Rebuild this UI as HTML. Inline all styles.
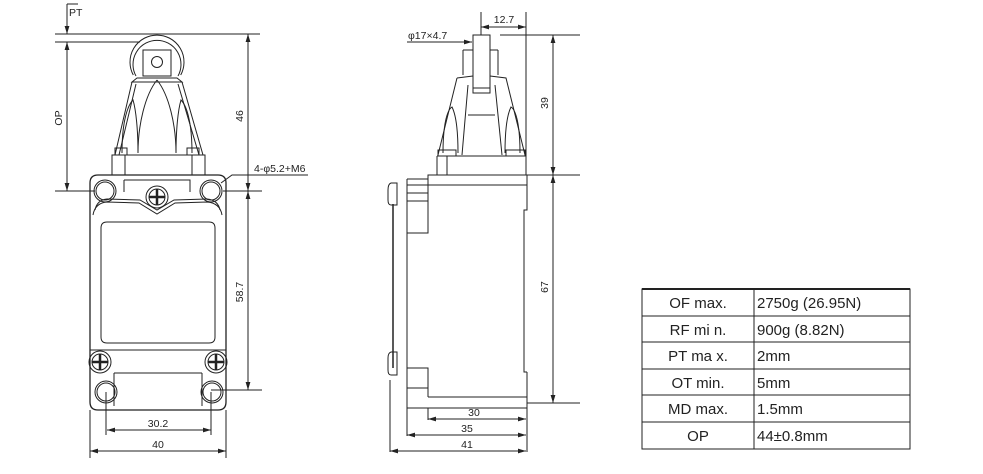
<!DOCTYPE html>
<html><head><meta charset="utf-8"><style>
html,body{margin:0;padding:0;background:#fff;}
svg{display:block;}
text{font-family:"Liberation Sans",sans-serif;fill:#222;}
</style></head><body>
<svg width="983" height="474" viewBox="0 0 983 474" xmlns="http://www.w3.org/2000/svg">
<defs>
<marker id="a" viewBox="0 0 10 6" refX="10" refY="3" markerWidth="8" markerHeight="5" orient="auto-start-reverse"><path d="M0,0L10,3L0,6z" fill="#222"/></marker>
</defs>
<g fill="none" stroke="#222" stroke-width="1">
<!-- FRONT VIEW -->
<path d="M133.3,75 A27,27 0 1 1 180.7,75"/>
<path d="M136,76 A24,24 0 1 1 178,76"/>
<rect x="143" y="50" width="28" height="26"/>
<circle cx="157" cy="62" r="5.5"/>
<path d="M137,78 L177,78 L182,82 L132,82 Z"/>
<path d="M132,82 L115,155 M182,82 L203,155"/>
<path d="M136,84 L119,155 M178,84 L199,155"/>
<path d="M157,80 C145,95 138,125 138,153 M157,80 C169,95 176,125 176,153"/>
<path d="M122,153 C122,120 128,105 133,100 C136,110 138,130 138,153"/>
<path d="M192,153 C192,120 186,105 181,100 C178,110 176,130 176,153"/>
<rect x="115" y="148" width="12" height="7"/><rect x="187" y="148" width="12" height="7"/>
<rect x="112" y="155" width="93" height="20"/>
<line x1="125" y1="155" x2="125" y2="175"/><line x1="192" y1="155" x2="192" y2="175"/>
<path d="M98,175 L218,175 Q226,175 226,183 L226,402 Q226,410 218,410 L98,410 Q90,410 90,402 L90,183 Q90,175 98,175 Z" stroke-width="1.3"/>
<path d="M124,180 L190,180 L190,192 M124,180 L124,192"/>
<path d="M95,210 Q97,200 107,199 L140,200 L157,210 L174,200 L207,199 Q218,200 220,210"/>
<path d="M93,215 Q95,203 107,202 L139,203 L157,214 L175,203 L207,202 Q220,203 222,215"/>
<circle cx="105" cy="191" r="11"/><circle cx="105" cy="191" r="9"/>
<circle cx="211" cy="191" r="11"/><circle cx="211" cy="191" r="9"/>
<circle cx="157" cy="197" r="11"/><circle cx="157" cy="197" r="8"/>
<path d="M157,189 V205 M149,197 H165" stroke-width="2.5"/>
<path d="M107,222 L209,222 Q215,222 215,228 L215,337 Q215,343 209,343 L107,343 Q101,343 101,337 L101,228 Q101,222 107,222 Z"/>
<path d="M90,350 L226,350 M114,373 L202,373 M114,373 L114,406 M202,373 L202,406"/>
<circle cx="100" cy="362" r="11"/><circle cx="100" cy="362" r="8"/>
<circle cx="216" cy="362" r="11"/><circle cx="216" cy="362" r="8"/>
<path d="M100,354 V370 M92,362 H108 M216,354 V370 M208,362 H224" stroke-width="2.5"/>
<circle cx="106" cy="392" r="11"/><circle cx="106" cy="392" r="9"/>
<circle cx="212" cy="392" r="11"/><circle cx="212" cy="392" r="9"/>
<path d="M55,34 H260 M55,42 H140 M55,191 H95 M223,191 H262 M211,390 H262"/>
<path d="M67,4 H78"/><path d="M67,4 V34" marker-end="url(#a)"/>
<line x1="67" y1="42" x2="67" y2="191" marker-start="url(#a)" marker-end="url(#a)"/>
<line x1="248" y1="34" x2="248" y2="191" marker-start="url(#a)" marker-end="url(#a)"/>
<line x1="248" y1="191" x2="248" y2="390" marker-start="url(#a)" marker-end="url(#a)"/>
<path d="M221,183 L232,175 H308"/>
<path d="M106,392 V435 M211,392 V435 M90,410 V458 M226,410 V458"/>
<line x1="107" y1="430" x2="211" y2="430" marker-start="url(#a)" marker-end="url(#a)"/>
<line x1="90" y1="451" x2="226" y2="451" marker-start="url(#a)" marker-end="url(#a)"/>
<!-- SIDE VIEW -->
<rect x="473" y="35" width="17" height="58"/>
<line x1="473" y1="88" x2="490" y2="88"/>
<path d="M463,50 H473 M490,50 H498 M463,50 V75 M498,50 V75"/>
<path d="M457,78 L473,76 M490,76 L506,78 L525,155 M457,78 L438,155"/>
<path d="M468,85 L462,155 M495,85 L502,155 M468,115 H495"/>
<path d="M443,153 C443,125 447,110 452,107 C456,115 458,130 458,153 M520,153 C520,125 516,110 511,107 C507,115 505,130 505,153"/>
<rect x="438" y="150" width="18" height="6"/><rect x="506" y="150" width="19" height="6"/>
<path d="M437,156 H526 M437,156 V175 M447,156 V175"/>
<rect x="428" y="175" width="99" height="10"/>
<path d="M407,179 V408 H527 V372 M407,179 H428 M527,185 V210 H524 V372 H527"/>
<path d="M407,185 H428 M407,193 H428 M407,201 H428 M407,233 H428 V185"/>
<path d="M428,397 H527 M407,368 H428 V397 M407,388 H428"/>
<path d="M393,204 V368" stroke-width="1.5"/>
<path d="M397,183 H391 Q388,184 388,190 V200 Q388,205 391,205 H397 Z M397,183 V204"/>
<path d="M397,352 H391 Q388,353 388,358 V370 Q388,375 391,375 H397 Z"/>
<path d="M500,35 H580 M527,175 H580 M527,403 H580"/>
<line x1="553" y1="35" x2="553" y2="175" marker-start="url(#a)" marker-end="url(#a)"/>
<line x1="553" y1="175" x2="553" y2="403" marker-start="url(#a)" marker-end="url(#a)"/>
<path d="M481,12 V35 M526,12 V175"/>
<line x1="481" y1="27" x2="526" y2="27" marker-start="url(#a)" marker-end="url(#a)"/>
<path d="M407,42 H440"/><line x1="440" y1="42" x2="472" y2="42" marker-end="url(#a)"/>
<path d="M428,408 V420 M407,408 V436 M390,380 V452 M527,408 V452"/>
<line x1="428" y1="419" x2="526" y2="419" marker-start="url(#a)" marker-end="url(#a)"/>
<line x1="407" y1="435" x2="526" y2="435" marker-start="url(#a)" marker-end="url(#a)"/>
<line x1="390" y1="451" x2="526" y2="451" marker-start="url(#a)" marker-end="url(#a)"/>
<!-- TABLE -->
<rect x="642" y="289" width="268" height="160"/>
<line x1="642" y1="289" x2="910" y2="289" stroke-width="2"/>
<line x1="754" y1="289" x2="754" y2="449"/>
<path d="M642,316 H910 M642,342 H910 M642,369 H910 M642,395 H910 M642,422 H910"/>
</g>
<g font-size="10.5">
<text x="69" y="16">PT</text>
<text x="62" y="118" transform="rotate(-90 62 118)" text-anchor="middle">OP</text>
<text x="243" y="116" transform="rotate(-90 243 116)" text-anchor="middle">46</text>
<text x="243" y="292" transform="rotate(-90 243 292)" text-anchor="middle">58.7</text>
<text x="254" y="172">4-φ5.2+M6</text>
<text x="158" y="427" text-anchor="middle">30.2</text>
<text x="158" y="448" text-anchor="middle">40</text>
<text x="408" y="39">φ17×4.7</text>
<text x="504" y="23" text-anchor="middle">12.7</text>
<text x="548" y="103" transform="rotate(-90 548 103)" text-anchor="middle">39</text>
<text x="548" y="287" transform="rotate(-90 548 287)" text-anchor="middle">67</text>
<text x="474" y="416" text-anchor="middle">30</text>
<text x="467" y="432" text-anchor="middle">35</text>
<text x="467" y="448" text-anchor="middle">41</text>
</g>
<g font-size="15">
<text x="698" y="308" text-anchor="middle">OF max.</text>
<text x="698" y="335" text-anchor="middle">RF mi n.</text>
<text x="698" y="361" text-anchor="middle">PT ma x.</text>
<text x="698" y="388" text-anchor="middle">OT min.</text>
<text x="698" y="414" text-anchor="middle">MD max.</text>
<text x="698" y="441" text-anchor="middle">OP</text>
<text x="757" y="308">2750g  (26.95N)</text>
<text x="757" y="335">900g  (8.82N)</text>
<text x="757" y="361">2mm</text>
<text x="757" y="388">5mm</text>
<text x="757" y="414">1.5mm</text>
<text x="757" y="441">44±0.8mm</text>
</g>
</svg>
</body></html>
